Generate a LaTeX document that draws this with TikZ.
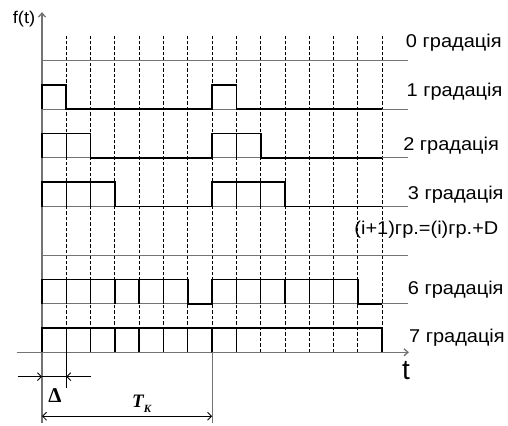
\documentclass[tikz,border=0pt]{standalone}
\usepackage{fontspec}
\setmainfont{Liberation Sans}
\newfontfamily\gradfont{Liberation Sans}[FakeStretch=1.08]
\newfontfamily\dimfont{Liberation Serif}
\usetikzlibrary{arrows.meta,positioning}

\begin{document}
\begin{tikzpicture}[
    x=24.3pt, y=24.3pt,
    grid/.style={dash pattern=on 3.5pt off 2pt, line width=0.9pt},
    base/.style={draw=black!55, line width=1pt},
    sig/.style={line width=1.7pt, line join=miter},
    cell/.style={line width=1.4pt},
    axis/.style={draw=black!55, line width=1.3pt},
    dim/.style={line width=0.8pt},
    barb/.tip={Straight Barb[length=4pt,width=8pt]},
    grad/.style={font=\gradfont\fontsize{18.5}{20}\selectfont, inner sep=0pt, anchor=west}
]
\useasboundingbox (-1.728,-2.992) rectangle (19.177,14.498);

% dashed clock grid
\foreach \k in {1,...,14}
    \draw[grid] (\k,0) -- (\k,13);

% thin base lines
\foreach \b in {12,10,8,6,4,2}
    \draw[base] (0,\b) -- (15.05,\b);

% axes
\coordinate (O) at (0,0);
\coordinate (ytop) at (0,14);
\coordinate (ybot) at (0,-2.9);
\coordinate (xl) at (-1.04,0);
\coordinate (xr) at (15.1,0);
\draw[axis, -{Straight Barb[length=4pt,width=7pt]}] (ybot) -- (ytop);
\draw[axis, -{Straight Barb[length=4pt,width=7pt]}] (xl) -- (xr);

% gradation signals
\foreach \g/\b in {1/10,2/8,3/6,6/2,7/0}
    \draw[sig] (0,\b) -- (0,\b+1) -- (\g,\b+1) -- (\g,\b) -- (7,\b)
        -- (7,\b+1) -- (7+\g,\b+1) -- (7+\g,\b) -- (14,\b);
\foreach \b/\ks in {8/{1,8}, 6/{1,2,8,9}, 2/{1,2,3,4,5,8,9,10,11,12}, 0/{1,...,6,8,...,13}}
    \foreach \k in \ks
        \draw[cell] (\k,\b) -- (\k,\b+1);

% labels
\node[grad] (l0) at (14.97,12.73) {0 градація};
\node[grad] (l1) at (15.0,10.71) {1 градація};
\node[grad] (l2) at (14.86,8.49) {2 градація};
\node[grad] (l3) at (15.05,6.47) {3 градація};
\node[grad] (lrule) at (12.85,5.03) {(i+1)гр.=(i)гр.+D};
\node[grad] (l6) at (15.05,2.56) {6 градація};
\node[grad] (l7) at (15.1,0.59) {7 градація};
\node[font=\gradfont\fontsize{17}{17}\selectfont, inner sep=0pt] (flbl) at (-0.74,13.72) {f(t)};
\node[font=\fontsize{28}{28}\selectfont, inner sep=0pt] (tlbl) at (14.98,-0.74) {t};

% step dimension
\coordinate (e1) at (1,0);
\coordinate (e1b) at (1,-1.45);
\coordinate (d0) at (-1,-1);
\coordinate (d1) at (0,-1);
\coordinate (d2) at (1,-1);
\coordinate (d3) at (2,-1);
\draw[dim] (e1) -- (e1b);
\draw[dim] (d1) -- (d2);
\draw[dim, -barb] (d0) -- (d1);
\draw[dim, -barb] (d3) -- (d2);
\node[font=\dimfont\bfseries\fontsize{21}{21}\selectfont, inner sep=0pt] (dlt) at (0.53,-1.77) {Δ};

% period dimension
\coordinate (e7) at (7,0);
\coordinate (e7b) at (7,-2.9);
\coordinate (tk0) at (0,-2.63);
\coordinate (tk1) at (7,-2.63);
\draw[axis, line width=1pt] (e7) -- (e7b);
\draw[dim, barb-barb] (tk0) -- (tk1);
\node[font=\dimfont\bfseries\itshape\fontsize{19}{19}\selectfont, inner sep=0pt] (tk) at (4.1,-2.13)
    {T\raisebox{-0.25em}{\fontsize{11}{11}\selectfont K}};
\end{tikzpicture}
\end{document}
